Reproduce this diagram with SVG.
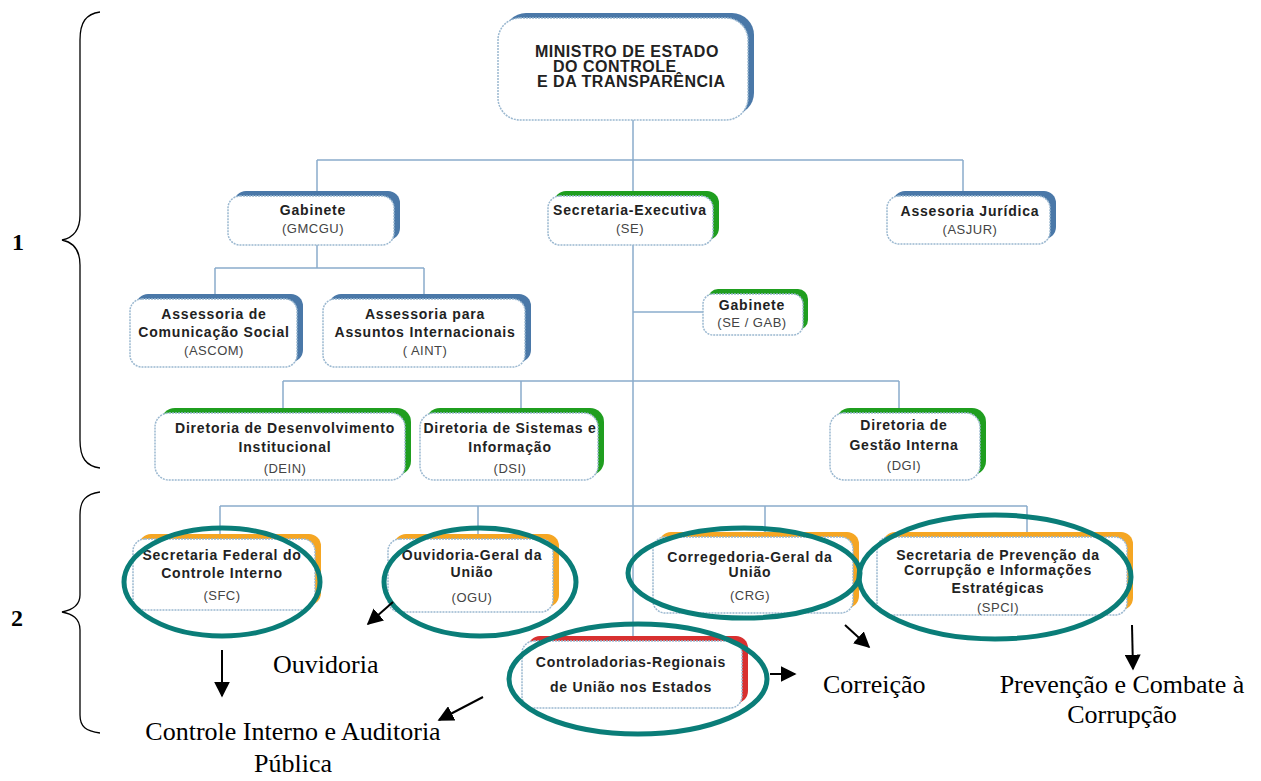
<svg xmlns="http://www.w3.org/2000/svg" width="1261" height="781" viewBox="0 0 1261 781">
<style>
.bx{fill:#fff;stroke:#9bb8d0;stroke-width:1.5;stroke-dasharray:2 1}
.sb{fill:#4a78a8}.sg{fill:#1f9e1f}.so{fill:#f5a623}.sr{fill:#d83030}
.t{font-family:"Liberation Sans",Arial,sans-serif;font-weight:bold;font-size:14px;letter-spacing:0.8px;fill:#222;text-anchor:middle}
.s{font-family:"Liberation Sans",Arial,sans-serif;font-size:13px;letter-spacing:0.5px;fill:#444;text-anchor:middle}
.big{font-family:"Liberation Sans",Arial,sans-serif;font-weight:bold;font-size:16px;letter-spacing:0.5px;fill:#222}
.tm{font-family:"Liberation Serif","Times New Roman",serif;font-size:26px;fill:#000}
.c{stroke:#8aaccc;stroke-width:1.5;fill:none}
.el{fill:none;stroke:#0a7d78;stroke-width:5}
.ar{stroke:#000;stroke-width:2;fill:none;marker-end:url(#ah)}
.br{stroke:#000;stroke-width:1.3;fill:none}
</style>
<defs>
<marker id="ah" viewBox="0 0 10 10" refX="9" refY="5" markerWidth="8" markerHeight="8" orient="auto" markerUnits="strokeWidth">
<path d="M0,0 L10,5 L0,10 z" fill="#000"/>
</marker>
</defs>
<rect width="1261" height="781" fill="#fff"/>

<g id="connectors">
<path class="c" d="M633 120 V160 M317 160 H963 M317 160 V196 M963 160 V196 M633 160 V641"/>
<path class="c" d="M317 245 V268 M215 268 H424 M215 268 V299 M424 268 V299"/>
<path class="c" d="M633 312 H703"/>
<path class="c" d="M283 381 H899 M283 381 V413 M521 381 V413 M899 381 V413"/>
<path class="c" d="M220 506 H1027 M220 506 V539 M478 506 V539 M765 506 V537 M1027 506 V537"/>
</g>

<g id="braces">
<path class="br" d="M100 12 C86 14 80 22 80 40 L80 215 C80 232 72 238 62 240 C72 242 80 248 80 265 L80 440 C80 458 86 466 100 468"/>
<path class="br" d="M100 492 C86 494 80 500 80 515 L80 595 C80 606 72 610 62 612 C72 614 80 618 80 630 L80 715 C80 727 86 731 100 733"/>
<text x="12" y="250" font-family="Liberation Serif,serif" font-weight="bold" font-size="24">1</text>
<text x="11" y="626" font-family="Liberation Serif,serif" font-weight="bold" font-size="24">2</text>
</g>

<g id="ministro">
<rect class="sb" x="504" y="13" width="250" height="102" rx="22"/>
<rect class="bx" x="498" y="18" width="250" height="102" rx="22"/>
<text class="big" x="535" y="57">MINISTRO DE ESTADO</text>
<text class="big" x="553" y="72">DO CONTROLE</text>
<text class="big" x="537" y="87">E DA TRANSPARÊNCIA</text>
</g>

<g id="gabinete">
<rect class="sb" x="234" y="191" width="166" height="49" rx="12"/>
<rect class="bx" x="228" y="196" width="166" height="49" rx="12"/>
<text class="t" x="313" y="215">Gabinete</text>
<text class="s" x="313" y="233">(GMCGU)</text>
</g>

<g id="se">
<rect class="sg" x="554" y="191" width="165" height="49" rx="12"/>
<rect class="bx" x="548" y="196" width="165" height="49" rx="12"/>
<text class="t" x="630" y="215">Secretaria-Executiva</text>
<text class="s" x="630" y="233">(SE)</text>
</g>

<g id="asjur">
<rect class="sb" x="893" y="191" width="163" height="48" rx="12"/>
<rect class="bx" x="887" y="196" width="163" height="48" rx="12"/>
<text class="t" x="970" y="216">Assesoria Jurídica</text>
<text class="s" x="970" y="234">(ASJUR)</text>
</g>

<g id="ascom">
<rect class="sb" x="136" y="294" width="167" height="68" rx="12"/>
<rect class="bx" x="130" y="299" width="167" height="68" rx="12"/>
<text class="t" x="214" y="319">Assessoria de</text>
<text class="t" x="214" y="337">Comunicação Social</text>
<text class="s" x="214" y="355">(ASCOM)</text>
</g>

<g id="aint">
<rect class="sb" x="329" y="294" width="202" height="68" rx="12"/>
<rect class="bx" x="323" y="299" width="202" height="68" rx="12"/>
<text class="t" x="425" y="319">Assessoria para</text>
<text class="t" x="425" y="337">Assuntos Internacionais</text>
<text class="s" x="425" y="355">( AINT)</text>
</g>

<g id="segab">
<rect class="sg" x="708" y="289" width="100" height="41" rx="10"/>
<rect class="bx" x="703" y="294" width="100" height="41" rx="10"/>
<text class="t" x="752" y="310">Gabinete</text>
<text class="s" x="752" y="327">(SE / GAB)</text>
</g>

<g id="dein">
<rect class="sg" x="161" y="408" width="250" height="67" rx="14"/>
<rect class="bx" x="155" y="413" width="250" height="67" rx="14"/>
<text class="t" x="285" y="433">Diretoria de Desenvolvimento</text>
<text class="t" x="285" y="452">Institucional</text>
<text class="s" x="285" y="473">(DEIN)</text>
</g>

<g id="dsi">
<rect class="sg" x="426" y="408" width="178" height="67" rx="14"/>
<rect class="bx" x="420" y="413" width="178" height="67" rx="14"/>
<text class="t" x="510" y="433">Diretoria de Sistemas e</text>
<text class="t" x="510" y="452">Informação</text>
<text class="s" x="510" y="473">(DSI)</text>
</g>

<g id="dgi">
<rect class="sg" x="836" y="408" width="150" height="67" rx="14"/>
<rect class="bx" x="830" y="413" width="150" height="67" rx="14"/>
<text class="t" x="904" y="430">Diretoria de</text>
<text class="t" x="904" y="450">Gestão Interna</text>
<text class="s" x="904" y="470">(DGI)</text>
</g>

<g id="sfc">
<rect class="so" x="139" y="534" width="182" height="71" rx="12"/>
<rect class="bx" x="133" y="539" width="182" height="71" rx="12"/>
<text class="t" x="222" y="560">Secretaria Federal do</text>
<text class="t" x="222" y="578">Controle Interno</text>
<text class="s" x="222" y="600">(SFC)</text>
</g>

<g id="ogu">
<rect class="so" x="394" y="534" width="165" height="73" rx="12"/>
<rect class="bx" x="388" y="539" width="165" height="73" rx="12"/>
<text class="t" x="472" y="560">Ouvidoria-Geral da</text>
<text class="t" x="472" y="577">União</text>
<text class="s" x="472" y="602">(OGU)</text>
</g>

<g id="crg">
<rect class="so" x="659" y="532" width="200" height="76" rx="12"/>
<rect class="bx" x="653" y="537" width="200" height="76" rx="12"/>
<text class="t" x="750" y="562">Corregedoria-Geral da</text>
<text class="t" x="750" y="577">União</text>
<text class="s" x="750" y="600">(CRG)</text>
</g>

<g id="spci">
<rect class="so" x="883" y="532" width="250" height="78" rx="12"/>
<rect class="bx" x="877" y="537" width="250" height="78" rx="12"/>
<text class="t" x="998" y="560">Secretaria de Prevenção da</text>
<text class="t" x="998" y="575">Corrupção e Informações</text>
<text class="t" x="998" y="593">Estratégicas</text>
<text class="s" x="998" y="612">(SPCI)</text>
</g>

<g id="cgu-regionais">
<rect class="sr" x="528" y="636" width="220" height="67" rx="12"/>
<rect class="bx" x="522" y="641" width="220" height="67" rx="12"/>
<text class="t" x="631" y="667">Controladorias-Regionais</text>
<text class="t" x="631" y="692">de União nos Estados</text>
</g>

<g id="highlights">
<ellipse class="el" cx="222" cy="582" rx="98" ry="54"/>
<ellipse class="el" cx="480" cy="582" rx="96" ry="54"/>
<ellipse class="el" cx="744" cy="573" rx="116" ry="45"/>
<ellipse class="el" cx="995" cy="577" rx="136" ry="62"/>
<ellipse class="el" cx="638" cy="679" rx="129" ry="55"/>
</g>

<g id="arrows">
<line class="ar" x1="393" y1="602" x2="368" y2="624"/>
<line class="ar" x1="222" y1="650" x2="222" y2="696"/>
<line class="ar" x1="483" y1="697" x2="439" y2="720"/>
<line class="ar" x1="770" y1="674" x2="795" y2="674"/>
<line class="ar" x1="845" y1="625" x2="869" y2="647"/>
<line class="ar" x1="1132" y1="625" x2="1133" y2="669"/>
</g>

<g id="annotations">
<text class="tm" x="273" y="673">Ouvidoria</text>
<text class="tm" x="293" y="740" text-anchor="middle">Controle Interno e Auditoria</text>
<text class="tm" x="293" y="772" text-anchor="middle">Pública</text>
<text class="tm" x="823" y="693">Correição</text>
<text class="tm" x="1122" y="693" text-anchor="middle">Prevenção e Combate à</text>
<text class="tm" x="1122" y="723" text-anchor="middle">Corrupção</text>
</g>
</svg>
